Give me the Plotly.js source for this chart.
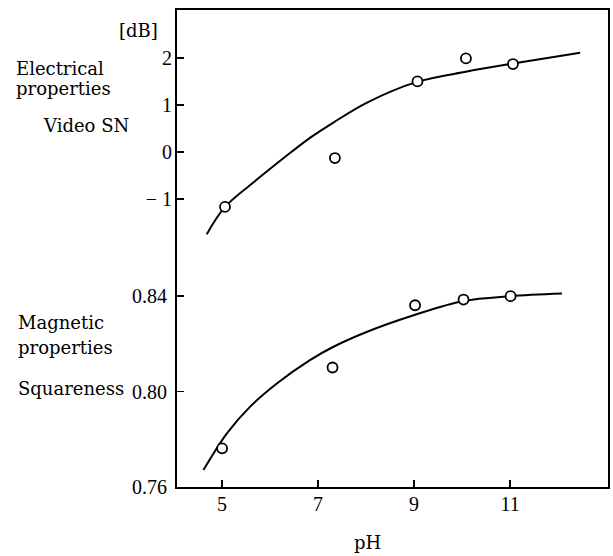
<!DOCTYPE html>
<html>
<head>
<meta charset="utf-8">
<script src="https://cdn.plot.ly/plotly-3.0.1.min.js"></script>
<style>html,body{margin:0;padding:0;background:#fff;}#chart{width:613px;height:556px;}</style>
</head>
<body>
<div id="chart"></div>
<script>
// Video SN (electrical properties), dB
const snPH = [5.06, 7.35, 9.07, 10.08, 11.06];
const snDB = [-1.17, -0.13, 1.50, 1.99, 1.87];
const snCurvePH = [4.68, 5.06, 5.65, 6.27, 6.83, 7.31, 8.02, 9.06, 10.1, 11.06, 12.46];
const snCurveDB = [-1.75, -1.17, -0.65, -0.14, 0.30, 0.62, 1.05, 1.49, 1.71, 1.88, 2.11];

// Squareness (magnetic properties)
const sqPH = [5.0, 7.30, 9.02, 10.03, 11.01];
const sqVal = [0.7762, 0.8101, 0.8362, 0.8386, 0.8400];
const sqCurvePH = [4.61, 5.10, 5.58, 6.14, 6.83, 7.32, 8.01, 8.99, 10.03, 11.0, 12.08];
const sqCurveVal = [0.7671, 0.7825, 0.7936, 0.8034, 0.8132, 0.8188, 0.8250, 0.8320, 0.8380, 0.8400, 0.8411];

const xTicks = [5, 7, 9, 11];
const sqTicks = [0.76, 0.80, 0.84];
const sqTickText = ['0.76', '0.80', '0.84'];
const snTicks = [-1, 0, 1, 2];
const snTickText = ['\u2212 1', '0', '1', '2'];

const lineStyle = {color: '#000', width: 2, shape: 'spline', smoothing: 1};
const markerStyle = {symbol: 'circle', size: 10, color: '#fff', line: {color: '#000', width: 1.8}};

const traces = [
  {x: sqCurvePH, y: sqCurveVal, mode: 'lines', line: lineStyle, xaxis: 'x', yaxis: 'y', hoverinfo: 'skip'},
  {x: sqPH, y: sqVal, mode: 'markers', marker: markerStyle, xaxis: 'x', yaxis: 'y'},
  {x: snCurvePH, y: snCurveDB, mode: 'lines', line: lineStyle, xaxis: 'x', yaxis: 'y2', hoverinfo: 'skip'},
  {x: snPH, y: snDB, mode: 'markers', marker: markerStyle, xaxis: 'x', yaxis: 'y2'}
];

const tickFont = {family: 'Liberation Serif, serif', size: 20, color: '#000'};
const labelFont = {family: 'DejaVu Serif, serif', size: 18, color: '#000'};

function ann(text, x, y, xanchor) {
  return {text: text, x: x, y: y, xref: 'paper', yref: 'paper', xanchor: xanchor || 'left',
          yanchor: 'middle', showarrow: false, font: labelFont};
}

const layout = {
  width: 613, height: 556,
  margin: {l: 177, r: 5, t: 10, b: 69},
  paper_bgcolor: '#fff', plot_bgcolor: '#fff',
  showlegend: false,
  xaxis: {
    range: [4.06, 13.04], tickvals: xTicks, ticktext: xTicks.map(String),
    ticks: 'inside', ticklen: 7, tickwidth: 1.5, tickcolor: '#000',
    showline: true, linecolor: '#000', linewidth: 2, mirror: true,
    showgrid: false, zeroline: false, tickfont: tickFont, ticklabelstandoff: -2
  },
  yaxis: {
    range: [0.76, 0.96], tickvals: sqTicks, ticktext: sqTickText,
    ticks: 'inside', ticklen: 7, tickwidth: 1.5, tickcolor: '#000',
    showline: true, linecolor: '#000', linewidth: 2, mirror: true,
    showgrid: false, zeroline: false, tickfont: tickFont, ticklabelstandoff: 4
  },
  yaxis2: {
    overlaying: 'y', side: 'left',
    range: [-7.13, 3.02], tickvals: snTicks, ticktext: snTickText,
    ticks: 'inside', ticklen: 7, tickwidth: 1.5, tickcolor: '#000',
    showline: false, showgrid: false, zeroline: false, tickfont: tickFont, ticklabelstandoff: 4
  },
  annotations: [
    ann('[dB]', -0.139, 0.958),
    ann('Electrical', -0.378, 0.878),
    ann('properties', -0.378, 0.836),
    ann('Video SN', -0.316, 0.757),
    ann('Magnetic', -0.373, 0.344),
    ann('properties', -0.373, 0.2935),
    ann('Squareness', -0.373, 0.2075),
    ann('pH', 0.441, -0.1174, 'center')
  ]
};

Plotly.newPlot('chart', traces, layout, {staticPlot: true, displayModeBar: false});
</script>
</body>
</html>
